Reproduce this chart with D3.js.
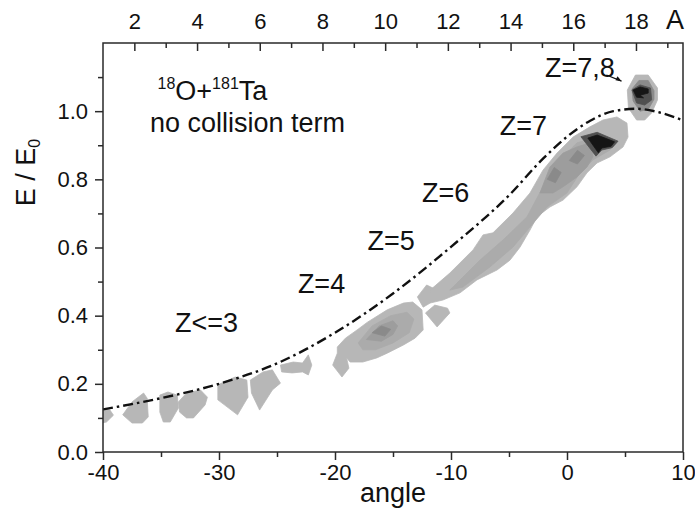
<!DOCTYPE html>
<html lang="en">
<head>
    <meta charset="UTF-8">
    <title>E/E0 vs angle</title>
    <script src="https://cdn.jsdelivr.net/npm/d3@7/dist/d3.min.js"></script>
    <style>
        body { margin: 0; background: #fff; }
        text { font-family: "Liberation Sans", Arial, sans-serif; fill: #111; }
    </style>
</head>
<body>
    <svg width="695" height="515" id="mainsvg"></svg>
    <script>
        // dash-dot reference curve
        const curveAngle = [-40, -35, -30, -25, -20, -15, -10, -5, -2, 0, 2, 4, 6, 8, 10];
        const curveE = [0.125, 0.158, 0.2, 0.26, 0.35, 0.465, 0.602, 0.753, 0.863, 0.925, 0.972, 1.0, 1.007, 0.996, 0.973];

        // contour shades, light to dark
        const shades = ["#b7b7b7", "#ababab", "#9d9d9d", "#8a8a8a", "#505050", "#151515"];

        // contour polygons [angle, E], each with a shade index
        const blobLevel = [0, 0, 0, 0, 0, 0, 0, 0, 1, 2, 3, 0, 0, 0, 1, 2, 3, 3, 4, 5, 0, 3, 4, 5];
        const blobs = [
            [[-40.5, 0.13], [-39.4, 0.123], [-39.1, 0.108], [-39.7, 0.088], [-40.5, 0.082]],
            [[-38.3, 0.109], [-37.5, 0.147], [-36.5, 0.173], [-36.2, 0.158], [-36.1, 0.103], [-36.6, 0.085], [-37.5, 0.085]],
            [[-35.1, 0.167], [-34.4, 0.176], [-33.6, 0.167], [-33.5, 0.129], [-34.2, 0.088], [-34.8, 0.088], [-35.1, 0.117]],
            [[-33.5, 0.147], [-32.8, 0.173], [-31.6, 0.182], [-31.0, 0.161], [-31.2, 0.138], [-32.2, 0.1], [-32.8, 0.1], [-33.4, 0.117]],
            [[-30.1, 0.197], [-28.6, 0.22], [-27.6, 0.211], [-27.5, 0.161], [-28.4, 0.109], [-30.1, 0.153]],
            [[-27.3, 0.211], [-26.2, 0.235], [-25.4, 0.241], [-24.7, 0.202], [-25.4, 0.182], [-26.5, 0.123], [-27.2, 0.173]],
            [[-24.7, 0.255], [-23.6, 0.264], [-22.8, 0.261], [-22.3, 0.285], [-22.0, 0.255], [-22.3, 0.226], [-22.8, 0.235], [-23.7, 0.232], [-24.6, 0.235]],
            [[-19.8, 0.308], [-19.1, 0.334], [-18.1, 0.358], [-17.2, 0.381], [-15.5, 0.417], [-14.1, 0.437], [-13.3, 0.44], [-12.5, 0.417], [-12.4, 0.358], [-13.1, 0.334], [-14.1, 0.314], [-15.5, 0.29], [-16.4, 0.276], [-17.6, 0.264], [-18.7, 0.264], [-19.0, 0.276], [-18.8, 0.246], [-19.4, 0.22], [-20.2, 0.255], [-19.8, 0.29]],
            [[-18.0, 0.32], [-16.8, 0.37], [-15.2, 0.40], [-13.8, 0.41], [-13.2, 0.39], [-13.6, 0.35], [-15.0, 0.32], [-16.5, 0.30], [-17.6, 0.30]],
            [[-17.3, 0.33], [-16.2, 0.37], [-15.0, 0.385], [-14.6, 0.37], [-15.0, 0.345], [-16.0, 0.325]],
            [[-16.8, 0.35], [-16.0, 0.37], [-15.2, 0.36], [-15.7, 0.34]],
            [[-12.9, 0.455], [-12.1, 0.49], [-11.2, 0.475], [-11.8, 0.437], [-12.4, 0.425]],
            [[-12.2, 0.408], [-11.4, 0.431], [-10.3, 0.422], [-10.1, 0.408], [-11.2, 0.367]],
            [[-11.8, 0.475], [-10.1, 0.525], [-8.1, 0.593], [-7.24, 0.637], [-6.38, 0.643], [-4.66, 0.701], [-3.19, 0.76], [-2.07, 0.827], [-0.86, 0.877], [0.52, 0.924], [1.98, 0.954], [3.1, 0.974], [4.31, 0.983], [5.17, 0.965], [5.26, 0.924], [4.83, 0.895], [3.71, 0.866], [2.59, 0.848], [1.72, 0.819], [0.86, 0.778], [-0.34, 0.739], [-1.47, 0.719], [-2.59, 0.69], [-3.19, 0.651], [-4.05, 0.601], [-4.91, 0.563], [-6.03, 0.534], [-7.76, 0.505], [-9.22, 0.467], [-10.69, 0.446], [-11.81, 0.437]],
            [[-10.1, 0.475], [-7.5, 0.563], [-5.52, 0.622], [-3.45, 0.69], [-2.07, 0.778], [-0.86, 0.848], [0.86, 0.907], [2.59, 0.924], [4.14, 0.915], [3.71, 0.886], [2.24, 0.857], [1.12, 0.819], [0.0, 0.76], [-1.72, 0.719], [-3.19, 0.66], [-4.66, 0.601], [-6.64, 0.543], [-8.97, 0.484]],
            [[-2.33, 0.76], [-1.47, 0.836], [-0.34, 0.877], [0.86, 0.895], [1.98, 0.907], [2.24, 0.866], [1.72, 0.836], [0.86, 0.807], [-0.34, 0.778], [-1.21, 0.76]],
            [[-1.7, 0.80], [-1.1, 0.835], [-0.5, 0.82], [-1.0, 0.79]],
            [[0.2, 0.855], [0.9, 0.885], [1.5, 0.87], [0.9, 0.845]],
            [[1.2, 0.925], [2.6, 0.938], [4.4, 0.912], [3.9, 0.893], [3.0, 0.886], [2.5, 0.868]],
            [[1.8, 0.921], [2.6, 0.93], [4.1, 0.91], [3.8, 0.897], [3.0, 0.892], [2.7, 0.878]],
            [[5.2, 1.062], [5.9, 1.106], [7.0, 1.106], [7.8, 1.068], [7.8, 1.033], [7.3, 0.995], [6.7, 0.974], [6.0, 0.974], [5.3, 1.009]],
            [[5.6, 1.065], [6.2, 1.09], [7.0, 1.09], [7.5, 1.06], [7.5, 1.035], [7.0, 1.005], [6.3, 1.0], [5.7, 1.03]],
            [[5.6, 1.062], [6.3, 1.077], [7.2, 1.068], [7.3, 1.033], [6.7, 1.018], [6.0, 1.024]],
            [[5.7, 1.062], [6.3, 1.071], [7.0, 1.065], [7.0, 1.053], [6.3, 1.047], [6.6, 1.039], [6.0, 1.041]]
        ];

        // annotations
        const zLabels = ["Z<=3", "Z=4", "Z=5", "Z=6", "Z=7", "Z=7,8"];
        const zAngle = [-33.8, -23.2, -17.2, -12.5, -5.8, -1.9];
        const zE = [0.352, 0.466, 0.593, 0.733, 0.93, 1.1];

        // axes
        const xTicks = [-40, -30, -20, -10, 0, 10];
        const xMinor = [-35, -25, -15, -5, 5];
        const yTicks = [0, 0.2, 0.4, 0.6, 0.8, 1.0];
        const yMinor = [0.1, 0.3, 0.5, 0.7, 0.9, 1.1];
        const aTicks = [2, 4, 6, 8, 10, 12, 14, 16, 18];
        const aMinor = [3, 5, 7, 9, 11, 13, 15, 17, 19];

        const svg = d3.select("#mainsvg");
        const width = +svg.attr("width");
        const height = +svg.attr("height");
        const margin = {top: 43, right: 12, bottom: 63, left: 103};
        const innerWidth = width - margin.left - margin.right;
        const innerHeight = height - margin.top - margin.bottom;
        const g = svg.append("g")
            .attr("transform", `translate(${margin.left}, ${margin.top})`);

        const x = d3.scaleLinear().domain([-40, 10]).range([0, innerWidth]);
        const y = d3.scaleLinear().domain([0, 1.2]).range([innerHeight, 0]);
        const xA = d3.scaleLinear().domain([1, 19.5]).range([0, innerWidth]);

        svg.append("defs").append("clipPath").attr("id", "clip")
            .append("rect").attr("width", innerWidth).attr("height", innerHeight);

        const plot = g.append("g").attr("clip-path", "url(#clip)");

        const poly = d3.line().x(d => x(d[0])).y(d => y(d[1])).curve(d3.curveLinearClosed);
        plot.selectAll("path.blob").data(blobs).join("path")
            .attr("class", "blob")
            .attr("d", poly)
            .attr("fill", (d, i) => shades[blobLevel[i]])
            .attr("stroke", (d, i) => shades[blobLevel[i]])
            .attr("stroke-width", 0.8)
            .attr("stroke-linejoin", "round");

        const curveData = curveAngle.map((a, i) => [a, curveE[i]]);
        plot.append("path")
            .datum(curveData)
            .attr("fill", "none")
            .attr("stroke", "#111")
            .attr("stroke-width", 2.4)
            .attr("stroke-dasharray", "10,4,2.5,4")
            .attr("d", d3.line().x(d => x(d[0])).y(d => y(d[1])).curve(d3.curveMonotoneX));

        // frame
        g.append("rect")
            .attr("width", innerWidth).attr("height", innerHeight)
            .attr("fill", "none").attr("stroke", "#2a2a2a").attr("stroke-width", 1.5);

        function styleAxis(sel) {
            sel.select(".domain").remove();
            sel.selectAll("line").attr("stroke", "#2a2a2a").attr("stroke-width", 1.5);
            sel.selectAll("text").attr("font-size", 22).attr("fill", "#111")
                .attr("font-family", "Liberation Sans, Arial, sans-serif");
        }
        function minorAxis(sel) {
            styleAxis(sel);
            sel.selectAll("text").remove();
        }

        g.append("g").attr("transform", `translate(0,${innerHeight})`)
            .call(d3.axisBottom(x).tickValues(xTicks).tickSize(8).tickPadding(4).tickFormat(d => String(d)))
            .call(styleAxis);
        g.append("g").attr("transform", `translate(0,${innerHeight})`)
            .call(d3.axisBottom(x).tickValues(xMinor).tickSize(5))
            .call(minorAxis);

        g.append("g")
            .call(d3.axisLeft(y).tickValues(yTicks).tickSize(8).tickPadding(7).tickFormat(d3.format(".1f")))
            .call(styleAxis);
        g.append("g")
            .call(d3.axisLeft(y).tickValues(yMinor).tickSize(5))
            .call(minorAxis);

        g.append("g")
            .call(d3.axisTop(xA).tickValues(aTicks).tickSizeInner(-8).tickSizeOuter(0).tickPadding(14).tickFormat(d3.format("d")))
            .call(styleAxis);
        g.append("g")
            .call(d3.axisTop(xA).tickValues(aMinor).tickSizeInner(-5).tickSizeOuter(0))
            .call(minorAxis);

        g.append("text")
            .attr("x", innerWidth - 17).attr("y", -14)
            .attr("font-size", 27).text("A");

        // axis titles
        g.append("text")
            .attr("x", innerWidth / 2).attr("y", innerHeight + 50)
            .attr("text-anchor", "middle").attr("font-size", 27).text("angle");

        const yl = g.append("text")
            .attr("transform", `translate(-68, ${y(0.82)}) rotate(-90)`)
            .attr("text-anchor", "middle").attr("font-size", 27);
        yl.append("tspan").text("E / E");
        yl.append("tspan").attr("font-size", 16).attr("dy", 5).text("0");

        // reaction label
        const r = g.append("text").attr("x", x(-35.3)).attr("y", y(1.033)).attr("font-size", 27);
        r.append("tspan").attr("font-size", 16).attr("dy", -11).text("18");
        r.append("tspan").attr("dy", 11).text("O+");
        r.append("tspan").attr("font-size", 16).attr("dy", -11).text("181");
        r.append("tspan").attr("dy", 11).text("Ta");
        g.append("text").attr("x", x(-35.95)).attr("y", y(0.939))
            .attr("font-size", 27).text("no collision term");

        g.selectAll("text.z").data(zLabels).join("text")
            .attr("class", "z")
            .attr("x", (d, i) => x(zAngle[i]))
            .attr("y", (d, i) => y(zE[i]))
            .attr("font-size", 27)
            .text(d => d);

        // arrow from Z=7,8 to the top spot
        const arrowFrom = [3.4, 1.106], arrowTo = [4.7, 1.088];
        g.append("line")
            .attr("x1", x(arrowFrom[0])).attr("y1", y(arrowFrom[1]))
            .attr("x2", x(arrowTo[0])).attr("y2", y(arrowTo[1]))
            .attr("stroke", "#111").attr("stroke-width", 1.2);
        const ax = x(arrowTo[0]), ay = y(arrowTo[1]);
        g.append("path")
            .attr("d", `M${ax},${ay} l-6,-1 l2,-4 z`)
            .attr("fill", "#111");
    </script>
</body>
</html>
